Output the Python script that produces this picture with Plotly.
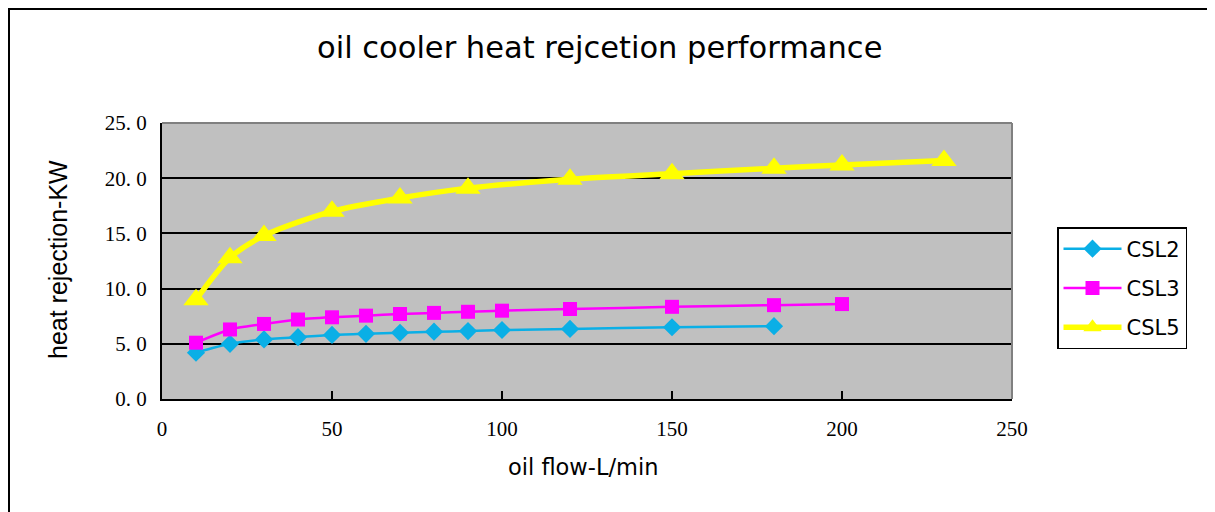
import plotly.graph_objects as go

csl2_x = [10, 20, 30, 40, 50, 60, 70, 80, 90, 100, 120, 150, 180]
csl2_y = [4.2, 5.0, 5.4, 5.6, 5.8, 5.9, 6.0, 6.1, 6.15, 6.25, 6.35, 6.5, 6.6]
csl3_x = [10, 20, 30, 40, 50, 60, 70, 80, 90, 100, 120, 150, 180, 200]
csl3_y = [5.1, 6.3, 6.8, 7.2, 7.4, 7.55, 7.7, 7.8, 7.9, 8.0, 8.15, 8.35, 8.5, 8.6]
csl5_x = [10, 20, 30, 50, 70, 90, 120, 150, 180, 200, 230]
csl5_y = [9.0, 12.8, 14.8, 17.0, 18.2, 19.1, 19.9, 20.4, 20.9, 21.2, 21.6]

y_ticks = [0, 5, 10, 15, 20, 25]
y_tick_text = ["0. 0", "5. 0", "10. 0", "15. 0", "20. 0", "25. 0"]
x_ticks = [0, 50, 100, 150, 200, 250]

fig = go.Figure()
fig.add_trace(go.Scatter(x=csl2_x, y=csl2_y, name="CSL2", legendgroup="a", mode="lines+markers",
                         line=dict(color="#0AAFE6", width=2.5, shape="spline", smoothing=0.6),
                         marker=dict(symbol="diamond", size=14, color="#0AAFE6")))
fig.add_trace(go.Scatter(x=csl3_x, y=csl3_y, name="CSL3", legendgroup="b", mode="lines+markers",
                         line=dict(color="#FF00FF", width=2.5, shape="spline", smoothing=0.6),
                         marker=dict(symbol="square", size=14, color="#FF00FF")))
fig.add_trace(go.Scatter(x=csl5_x, y=csl5_y, name="CSL5", legendgroup="c", mode="lines+markers",
                         line=dict(color="#FFFF00", width=5.5, shape="spline", smoothing=0.8),
                         marker=dict(symbol="triangle-up", size=22, color="#FFFF00")))

# page has an 8px body margin; page-pixel plot area 162..1012 x 123..399
OFF = 8
L, R, T, B = 162, 1012, 123, 399
W, H = 1207, 504
pw, ph = R - L, B - T

def px(x):
    return (x - L) / pw

def py(y):
    return (B - y) / ph

fig.update_layout(
    width=W, height=H,
    margin=dict(l=L - OFF, r=W - (R - OFF), t=T - OFF, b=H - (B - OFF)),
    paper_bgcolor="white",
    plot_bgcolor="#C0C0C0",
    showlegend=True,
    legend=dict(x=px(1057), y=py(227), xanchor="left", yanchor="top",
                bgcolor="white", bordercolor="black", borderwidth=1.5,
                font=dict(family="DejaVu Sans", size=21, color="black"),
                itemwidth=58, tracegroupgap=9),
    xaxis=dict(range=[0, 250], tickvals=x_ticks, ticks="inside", ticklen=8,
               tickcolor="black", tickwidth=1.5,
               showline=True, linecolor="black", linewidth=2, showgrid=False,
               zeroline=False, mirror=False, ticklabelstandoff=10,
               tickfont=dict(family="Liberation Serif", size=21, color="black")),
    yaxis=dict(range=[0, 25], tickvals=y_ticks, ticktext=y_tick_text, ticks="",
               showline=True, linecolor="black", linewidth=2, showgrid=True,
               gridcolor="black", gridwidth=1.5, zeroline=False,
               ticklabelstandoff=9,
               tickfont=dict(family="Liberation Serif", size=21, color="black")),
    annotations=[
        dict(text="oil cooler heat rejcetion performance", xref="paper", yref="paper",
             x=px(599), y=py(48), xanchor="center", yanchor="middle", showarrow=False,
             font=dict(family="DejaVu Sans", size=30.5, color="black")),
        dict(text="oil flow-L/min", xref="paper", yref="paper",
             x=px(583), y=py(467), xanchor="center", yanchor="middle", showarrow=False,
             font=dict(family="DejaVu Sans", size=22.5, color="black")),
        dict(text="heat rejection-KW", xref="paper", yref="paper", textangle=-90,
             x=px(58), y=py(260), xanchor="center", yanchor="middle", showarrow=False,
             font=dict(family="Liberation Sans", size=25, color="black")),
    ],
)

# top and right border of plot area (gray)
fig.add_shape(type="line", xref="paper", yref="paper", x0=0, x1=1, y0=1, y1=1,
              line=dict(color="#808080", width=2))
fig.add_shape(type="line", xref="paper", yref="paper", x0=1, x1=1, y0=0, y1=1,
              line=dict(color="#808080", width=2))
# outer chart border
fig.add_shape(type="rect", xref="paper", yref="paper",
              x0=px(OFF + 1), x1=px(1240), y0=py(OFF + 1), y1=py(540),
              line=dict(color="black", width=2), layer="below")

fig.write_html("out.html")
